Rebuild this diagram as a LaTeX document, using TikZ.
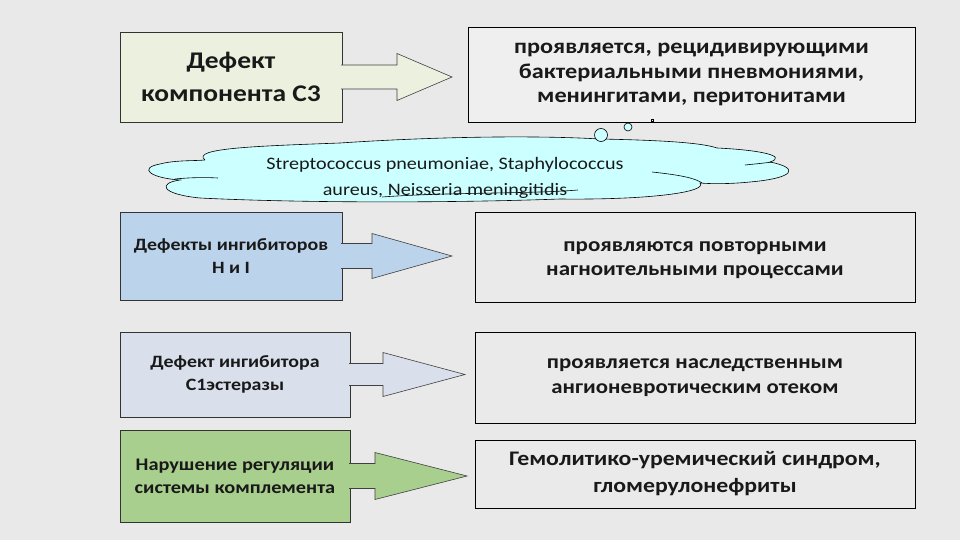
\documentclass[tikz,border=0pt]{standalone}
\usepackage{fontspec}
\setmainfont{Carlito}[FakeStretch=1.15]
\begin{document}
\begin{tikzpicture}[x=1pt,y=-1pt,
  box/.style={draw=#1, line width=0.8pt, inner sep=0pt, outer sep=0pt, align=center, text=black!90, font=\bfseries},
  blockarr/.style={draw=black!75, line width=0.6pt, line join=miter},
  cloudline/.style={line width=0.6pt}]
\definecolor{bgc}{HTML}{E9E9E9}
\definecolor{greenl}{HTML}{EBF1DE}
\definecolor{blue1}{HTML}{BCD3EC}
\definecolor{blue2}{HTML}{D9E0EB}
\definecolor{green2}{HTML}{A9CF8E}
\definecolor{greyb}{HTML}{EFEFEF}
\definecolor{greyc}{HTML}{EAEAEA}
\definecolor{cloudc}{HTML}{CCFFFF}
\fill[bgc] (0,0) rectangle (960,540);
\useasboundingbox (0,0) rectangle (960,540);

% left boxes
\node[box=black!80, fill=greenl, minimum width=222, minimum height=90, font=\bfseries\fontsize{23.9}{33}\selectfont] (b1) at (231,77) {Дефект\\компонента С3};
\node[box=black!80, fill=blue1, minimum width=222, minimum height=88, font=\bfseries\fontsize{17.3}{23}\selectfont] (b3) at (231,256) {Дефекты ингибиторов\\Н и I};
\node[box=black!80, fill=blue2, minimum width=230, minimum height=85, font=\bfseries\fontsize{17.3}{23}\selectfont] (b4) at (235,374.5) {Дефект ингибитора\\С1эстеразы};
\node[box=black!80, fill=green2, minimum width=230, minimum height=92, font=\bfseries\fontsize{17.7}{23}\selectfont] (b5) at (235,476) {Нарушение регуляции\\системы комплемента};

% right boxes
\node[box=black, fill=greyb, minimum width=447, minimum height=95, inner sep=0pt] (b2) at (691.5,74.5) {};
\node[align=center, inner sep=0pt, text=black!90, font=\bfseries\fontsize{21.1}{24.5}\selectfont] (t2) at (b2) {проявляется, рецидивирующими\\бактериальными пневмониями,\\менингитами, перитонитами};
\node[box=black, fill=greyc, minimum width=440, minimum height=90] (b6) at (695,257) {};
\node[align=center, inner sep=0pt, text=black!90, font=\bfseries\fontsize{20}{24}\selectfont] (t6) at ([yshift=-3.5]b6.center) {проявляются повторными\\нагноительными процессами};
\node[box=black, fill=greyc, minimum width=440, minimum height=91, font=\bfseries\fontsize{19.8}{25}\selectfont] (b7) at (695,377.5) {проявляется наследственным\\ангионевротическим отеком};
\node[box=black, fill=greyc, minimum width=440, minimum height=68, font=\bfseries\fontsize{20.7}{27}\selectfont] (b8) at (695,474) {Гемолитико-уремический синдром,\\гломерулонефриты};

% block arrows
\path[blockarr, fill=greenl] ([xshift=-1]b1.east) ++(0,-12) -- ++(56,0) -- ++(0,-11.5) -- ++(55,23.5) -- ++(-55,23.5) -- ++(0,-11.5) -- ++(-56,0);
\path[blockarr, fill=blue1] ([xshift=-1]b3.east) ++(0,-12.5) -- ++(31,0) -- ++(0,-10) -- ++(80,22.5) -- ++(-80,22.5) -- ++(0,-10) -- ++(-31,0);
\path[blockarr, fill=blue2] ([xshift=-1]b4.east) ++(0,-11) -- ++(34,0) -- ++(0,-11) -- ++(82,22) -- ++(-82,22) -- ++(0,-11) -- ++(-34,0);
\path[blockarr, fill=green2] ([xshift=-1]b5.east) ++(0,-12.5) -- ++(26,0) -- ++(0,-11) -- ++(92,23.5) -- ++(-92,23.5) -- ++(0,-11) -- ++(-26,0);

% cloud callout
\path[draw=black, cloudline, fill=cloudc]
  (205,160) .. controls (190,148) and (260,146) .. (340,143)
  .. controls (430,137) and (530,135) .. (600,139)
  .. controls (650,140) and (700,142) .. (717,148)
  .. controls (760,150) and (788,156) .. (770,162)
  .. controls (800,168) and (795,178) .. (750,182)
  .. controls (730,184) and (712,184) .. (700,183)
  .. controls (708,192) and (650,200) .. (560,199)
  .. controls (450,203) and (300,203) .. (200,198)
  .. controls (160,194) and (158,183) .. (180,180)
  .. controls (150,178) and (138,168) .. (160,164)
  .. controls (175,160) and (195,161) .. (205,160);
\draw[cloudline] (218,178) .. controls (200,177) and (185,178) .. (175,179);
\draw[cloudline] (652,172) .. controls (680,175) and (695,178) .. (702,183);
\draw[cloudline] (745,165) .. controls (755,164) and (765,163) .. (772,162);
\draw[cloudline] (382,197) .. controls (450,192) and (530,194) .. (578,190);
\draw[cloudline, fill=cloudc] (601,135) circle (6.5);
\draw[cloudline, fill=cloudc] (628,127) circle (4);
\draw[line width=0.5pt, fill=cloudc] (651,119) rectangle (653.5,121.5);
\node[align=center, inner sep=0pt, text=black!90, font=\fontsize{17.5}{26}\selectfont] (ct) at (445,178) {Streptococcus pneumoniae, Staphylococcus\\aureus, Neisseria meningitidis};
\end{tikzpicture}
\end{document}
